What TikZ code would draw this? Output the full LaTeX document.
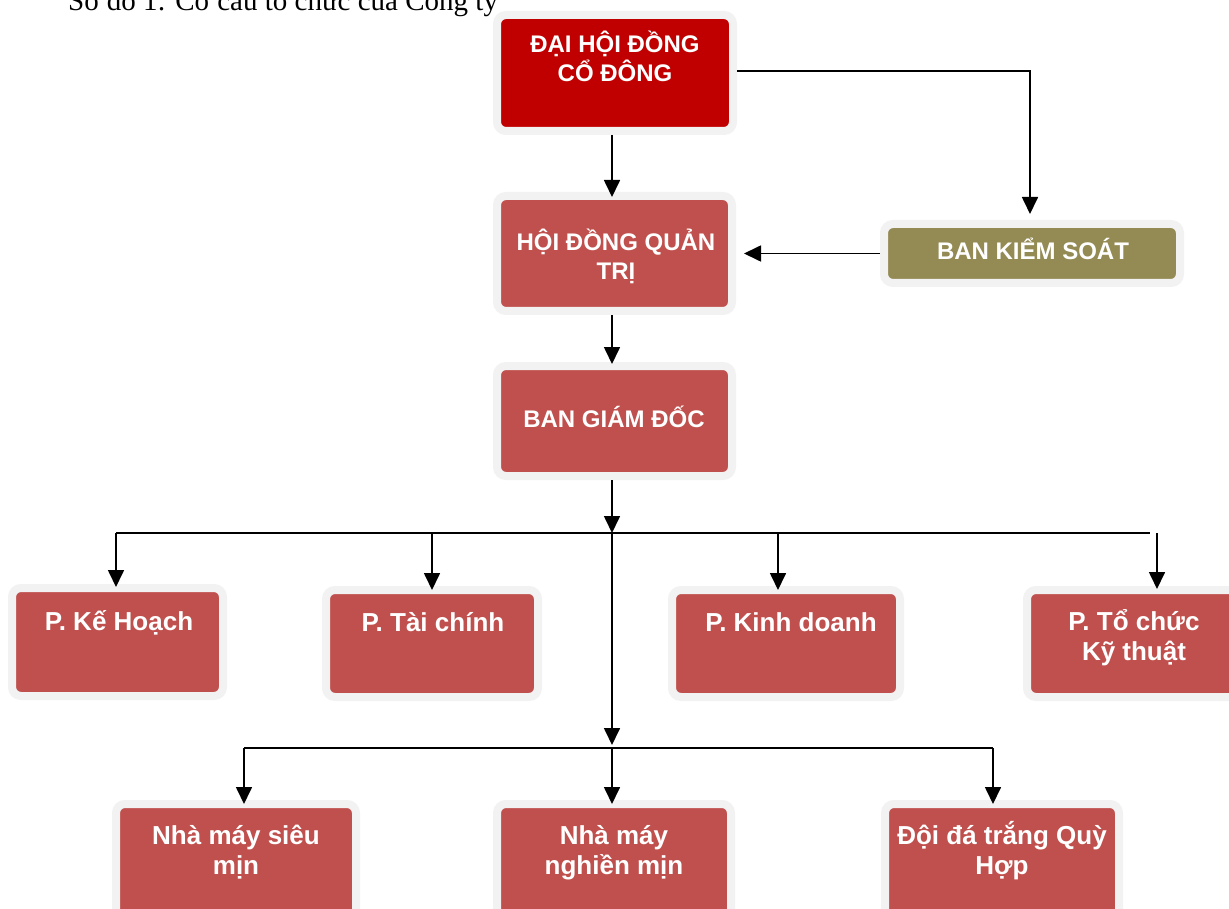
\documentclass[tikz,border=0pt]{standalone}
\usepackage{fontspec}
\setmainfont{Liberation Sans}
\newfontfamily\capfont{Liberation Serif}
\usetikzlibrary{arrows.meta}
\definecolor{boxrim}{HTML}{F2F2F2}
\definecolor{boxred}{HTML}{C0504D}
\definecolor{topred}{HTML}{C00000}
\definecolor{olivebox}{HTML}{948A54}
\begin{document}
\begin{tikzpicture}[x=1pt,y=-1pt,
  box/.style={draw=boxrim, line width=8pt, rounded corners=9pt, fill=boxred, inner sep=0pt},
  lbl/.style={text=white, font=\bfseries\fontsize{24}{29}\selectfont, align=center, anchor=base, inner sep=0pt},
  lbltwo/.style={lbl, font=\bfseries\fontsize{26}{30}\selectfont},
  conn/.style={line width=1.7pt, draw=black},
  arr/.style={conn, -{Triangle[length=17pt,width=16pt]}},
]
\useasboundingbox (0,0) rectangle (1229,909);
\clip (0,0) rectangle (1229,909);
\fill[white] (0,0) rectangle (1229,909);

% caption
\node[anchor=base west, inner sep=0pt, font=\capfont\fontsize{29}{34}\selectfont] (cap) at (68,10.5) {Sơ đồ 1: Cơ cấu tổ chức của Công ty};

% boxes
\node[box, fill=topred, minimum width=236pt, minimum height=116pt] (b1) at (615,73) {};
\node[box, minimum width=235pt, minimum height=115pt] (hq) at (614.5,253.5) {};
\node[box, minimum width=235pt, minimum height=110pt] (gd) at (614.5,421) {};
\node[box, fill=olivebox, minimum width=296pt, minimum height=59pt] (bks) at (1032,253.5) {};
\node[box, minimum width=211pt, minimum height=108pt] (kh) at (117.5,642) {};
\node[box, minimum width=212pt, minimum height=107pt] (tc) at (432,643.5) {};
\node[box, minimum width=228pt, minimum height=107pt] (kd) at (786,643.5) {};
\node[box, minimum width=214pt, minimum height=107pt] (tck) at (1134,643.5) {};
\node[box, minimum width=240pt, minimum height=130pt] (nm1) at (236,869) {};
\node[box, minimum width=234pt, minimum height=130pt] (nm2) at (614,869) {};
\node[box, minimum width=234pt, minimum height=130pt] (doi) at (1002,869) {};

% texts (base anchor = baseline of the last line)
\node[lbl] (b1t) at (615,82) {ĐẠI HỘI ĐỒNG\\CỔ ĐÔNG};
\node[lbl] (hqt) at (616,280) {HỘI ĐỒNG QUẢN\\TRỊ};
\node[lbl] (gdt) at (614,427) {BAN GIÁM ĐỐC};
\node[lbl] (bkst) at (1033,260) {BAN KIỂM SOÁT};
\node[lbltwo] (kht) at (119,630) {P. Kế Hoạch};
\node[lbltwo] (tct) at (433,631) {P. Tài chính};
\node[lbltwo] (kdt) at (791,631) {P. Kinh doanh};
\node[lbltwo] (tckt) at (1134,660) {P. Tổ chức\\Kỹ thuật};
\node[lbltwo] (nm1t) at (236,874) {Nhà máy siêu\\mịn};
\node[lbltwo] (nm2t) at (614,874) {Nhà máy\\nghiền mịn};
\node[lbltwo] (doit) at (1002,874) {Đội đá trắng Quỳ\\Hợp};

% junction coordinates
\coordinate (cx) at (612,0);
\coordinate (ja) at (612,533);
\coordinate (jl) at (116,533);
\coordinate (jt) at (432,533);
\coordinate (jk) at (778,533);
\coordinate (jr) at (1150,533);
\coordinate (jq) at (1157,533);
\coordinate (jb) at (612,748);
\coordinate (jbl) at (244,748);
\coordinate (jbr) at (993,748);
\coordinate (bx) at (1030,0);

% connectors
\draw[arr, shorten >=6pt] (b1.east |- 0,71) -| (bx |- bks.north);
\draw[arr, shorten >=-5pt] (cx |- b1.south) -- (cx |- hq.north);
\draw[arr, shorten >=8pt] (bks.west) -- (hq.east);
\draw[arr, shorten >=-2pt] (cx |- hq.south) -- (cx |- gd.north);
\draw[arr] (cx |- gd.south) -- (ja);
\draw[conn] (jl) -- (jr);
\draw[arr, shorten >=-3pt] (jl) -- (jl |- kh.north);
\draw[arr, shorten >=-4pt] (jt) -- (jt |- tc.north);
\draw[arr, shorten >=-4pt] (jk) -- (jk |- kd.north);
\draw[arr, shorten >=-3pt] (jq) -- (jq |- tck.north);
\draw[arr, shorten >=3pt] (ja) -- (jb);
\draw[conn] (jbl) -- (jbr);
\draw[arr, shorten >=-4pt] (jbl) -- (jbl |- nm1.north);
\draw[arr, shorten >=-4pt] (jb) -- (jb |- nm2.north);
\draw[arr, shorten >=-4pt] (jbr) -- (jbr |- doi.north);
\end{tikzpicture}
\end{document}
